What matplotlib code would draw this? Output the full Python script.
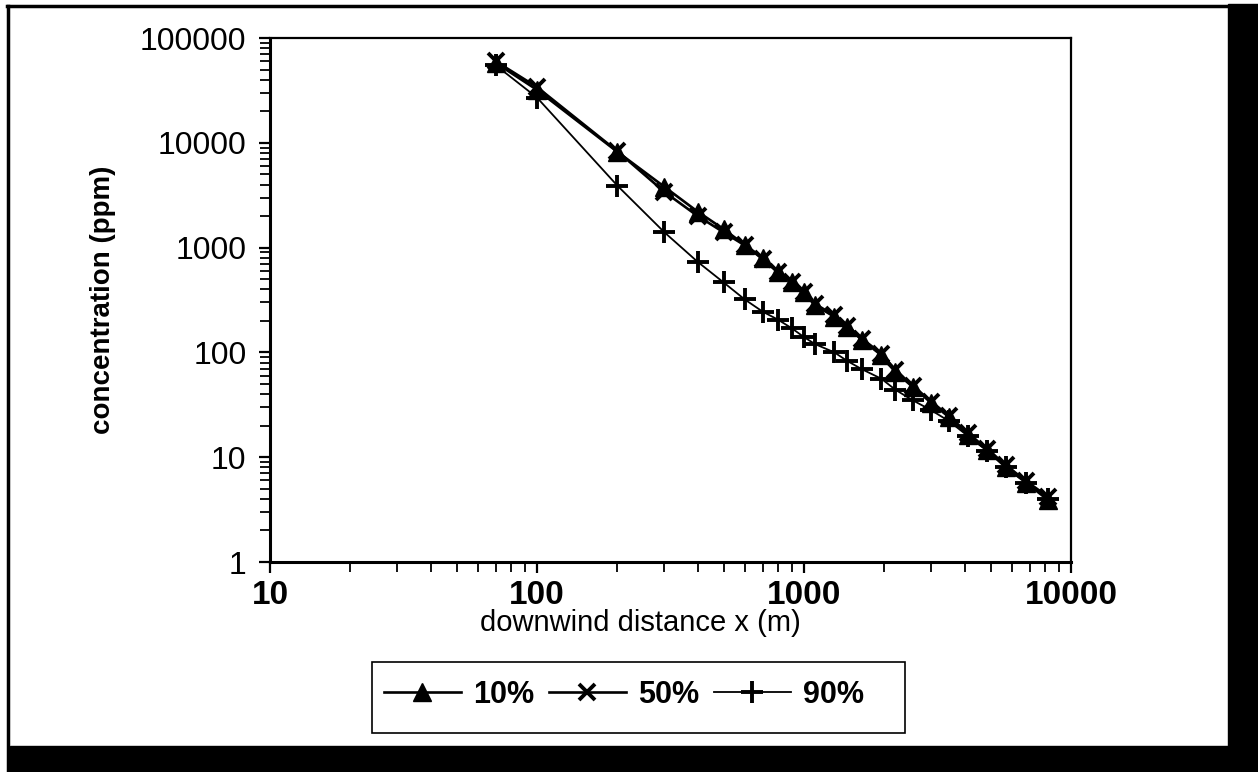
import numpy as np
import matplotlib
matplotlib.use("Agg")
import matplotlib.pyplot as plt
from matplotlib.patches import Rectangle

plt.rcParams["font.family"] = ["Liberation Sans", "DejaVu Sans"]

# downwind distance (m), shared by the three series
dist = [70, 100, 200, 300, 400, 500, 600, 700, 800, 900, 1000, 1100, 1300,
        1450, 1650, 1950, 2200, 2550, 3000, 3500, 4100, 4850, 5700, 6800, 8200]
# concentration (ppm)
c10 = [58000, 32000, 8200, 3800, 2200, 1500, 1060, 800, 580, 470, 380, 283,
       218, 175, 131, 94, 65, 47, 33, 24, 16.3, 11.7, 8.0, 5.7, 3.9]
c50 = [60000, 34000, 8300, 3400, 2000, 1400, 1050, 780, 580, 470, 380, 290,
       225, 180, 135, 97, 68, 48, 34, 24.5, 17, 12, 8.4, 5.9, 4.2]
c90 = [55000, 27000, 3900, 1400, 730, 465, 320, 245, 205, 170, 140, 120,
       100, 83, 69, 56, 44, 35, 28, 22, 16, 11.5, 8.0, 5.7, 4.0]

labels = ["10%", "50%", "90%"]
xticks = [10, 100, 1000, 10000]
yticks = [1, 10, 100, 1000, 10000, 100000]

W, H = 1258, 772
fig = plt.figure(figsize=(W / 100, H / 100), dpi=100)
fig.patch.set_facecolor("white")

ax = fig.add_axes([270 / W, 1 - 562 / H, 801 / W, 524 / H])
ax.set_xscale("log")
ax.set_yscale("log")
ax.set_xlim(10, 10000)
ax.set_ylim(1, 100000)

ax.plot(dist, c90, "-", color="black", lw=1.3, marker="+", ms=16, mew=2.8,
        label=labels[2], zorder=3)
ax.plot(dist, c50, "-", color="black", lw=1.9, marker="x", ms=12, mew=2.8,
        label=labels[1], zorder=4)
ax.plot(dist, c10, "-", color="black", lw=1.9, marker="^", ms=13, mew=1,
        mfc="black", mec="black", label=labels[0], zorder=5)

for s in ["left", "bottom"]:
    ax.spines[s].set_linewidth(2.2)
for s in ["top", "right"]:
    ax.spines[s].set_linewidth(1.6)

ax.set_xticks(xticks)
ax.set_xticklabels([str(v) for v in xticks], fontsize=24, fontweight="bold")
ax.set_yticks(yticks)
ax.set_yticklabels([str(v) for v in yticks], fontsize=23)
ax.tick_params(which="major", direction="out", length=8, width=1.6, pad=9)
ax.tick_params(which="minor", direction="out", length=7, width=1.3)
ax.tick_params(axis="x", which="major", pad=5)

ax.set_xlabel("downwind distance x (m)", fontsize=21)
ax.xaxis.set_label_coords(0.462, -0.09)
ax.set_ylabel("concentration (ppm)", fontsize=20, fontweight="bold")
ax.yaxis.set_label_coords(-0.192, 0.5)

# legend box with the entries in its upper part
fig.patches.append(Rectangle((372 / W, 1 - 733 / H), 533 / W, 71 / H,
                             transform=fig.transFigure, fill=False,
                             edgecolor="black", lw=1.2))
h, l = ax.get_legend_handles_labels()
order = [2, 1, 0]
fig.legend([h[i] for i in order], [l[i] for i in order], loc="center",
           bbox_to_anchor=(624 / W, 1 - 695 / H), ncol=3, frameon=False,
           prop={"size": 22, "weight": "bold"}, handlelength=2.5,
           handletextpad=0.4, columnspacing=0.5)

# scanned page frame
fig.add_artist(plt.Line2D([7 / W, 1228 / W], [1 - 6 / H, 1 - 6 / H],
                          transform=fig.transFigure, color="black", lw=2.5))
fig.add_artist(plt.Line2D([8 / W, 8 / W], [0, 1 - 6 / H],
                          transform=fig.transFigure, color="black", lw=2.5))
fig.patches.append(Rectangle((1228 / W, 0), 30 / W, 1 - 4 / H,
                             transform=fig.transFigure, color="black"))
fig.patches.append(Rectangle((10 / W, 0), 1248 / W, 26 / H,
                             transform=fig.transFigure, color="black"))

fig.savefig("out.png", dpi=100)
